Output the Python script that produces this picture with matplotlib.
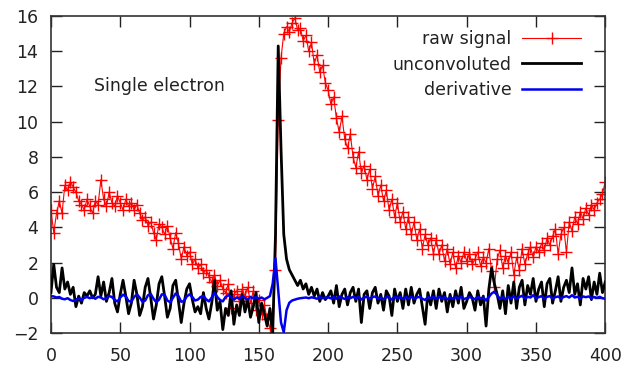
import matplotlib
matplotlib.use("Agg")
import matplotlib.pyplot as plt
import numpy as np

# sample positions (every 2 units, 0..400)
x = np.arange(0, 401, 2)

# raw signal (red, + markers)
raw_signal = [
    5.0, 3.7, 4.8, 5.5, 4.8, 6.4, 6.1, 6.6, 6.3, 6.0,
    5.5, 5.3, 5.0, 5.6, 5.2, 4.8, 5.5, 5.3, 6.7, 5.6,
    5.2, 6.0, 5.4, 5.2, 5.8, 5.4, 5.0, 5.6, 5.2, 5.4,
    5.0, 5.3, 4.8, 4.4, 4.6, 4.1, 4.3, 3.7, 3.3, 4.2,
    4.0, 3.6, 4.1, 3.4, 2.8, 3.7, 3.1, 2.2, 2.9, 2.4,
    2.6, 1.9, 2.2, 1.7, 1.9, 1.4, 1.6, 1.2, 0.9, 1.3,
    0.7, 1.0, 0.5, 0.3, 0.8, -0.6, 0.2, 0.4, -0.2, 0.5,
    0.1, 0.6, -0.3, 0.4, -0.7, -0.1, -0.9, -0.4, -1.2, -1.7,
    -2.2, 1.6, 10.1, 13.6, 15.0, 15.4, 15.1, 15.6, 15.9, 15.2,
    15.3, 14.6, 14.9, 14.0, 14.5, 13.3, 13.8, 12.8, 13.2, 12.2,
    11.8, 11.0, 11.4, 10.2, 9.4, 10.3, 9.0, 8.5, 9.3, 8.0,
    7.4, 8.3, 7.1, 7.5, 6.7, 7.3, 6.2, 6.9, 5.8, 6.4,
    5.5, 6.1, 5.0, 5.6, 4.6, 5.4, 4.3, 4.9, 3.9, 4.6,
    3.6, 4.3, 3.3, 3.9, 2.8, 3.6, 3.0, 3.4, 2.5, 3.3,
    2.5, 3.0, 2.1, 2.8, 1.9, 2.6, 1.7, 2.4, 2.0, 2.6,
    2.1, 2.5, 1.9, 2.2, 2.6, 1.8, 2.3, 2.0, 2.8, 1.5,
    0.6, 2.2, 2.7, 1.7, 2.4, 2.0, 2.6, 1.3, 2.3, 1.6,
    2.8, 1.9, 2.5, 2.9, 2.3, 2.9, 2.6, 3.1, 2.7, 3.4,
    3.0, 3.5, 3.9, 2.5, 3.6, 4.0, 2.6, 4.3, 3.8, 4.6,
    4.2, 4.9, 4.5, 5.1, 4.7, 5.3, 5.0, 5.4, 5.6, 5.9,
    6.6,
]

# unconvoluted (black)
unconvoluted = [
    0.3, 1.9, 0.6, 0.3, 1.7, 0.5, 0.9, 0.2, 0.6, -0.5,
    0.1, -0.3, 0.3, 0.1, 0.4, 0.0, 0.2, 1.2, 0.1, 0.9,
    -0.2, 0.3, 1.1, -0.3, -0.8, 0.2, 1.0, 0.1, -0.9, -0.3,
    1.0, 0.2, -1.0, -0.5, 0.6, 1.1, 0.0, -1.2, -0.4, 0.8,
    1.2, 0.1, -1.1, -0.6, 0.7, 1.0, -0.2, -1.4, -0.3, 0.5,
    0.8, -0.1, -0.8, -0.5, -0.9, 0.3, -0.6, -1.2, -0.3, 1.0,
    -0.7, -0.2, -1.8, -0.6, -1.0, 0.4, -1.5, -0.4, -1.0, 0.2,
    -0.8, -0.1, -1.1, -0.5, 0.3, -1.4, -0.3, -0.9, -1.6, -0.6,
    -2.0, 3.5, 14.3, 8.5, 3.6, 2.2, 1.6, 1.3, 1.0, 0.7,
    1.0, 0.5, 0.8, 0.2, 0.6, 0.1, 0.5, -0.2, 0.3, -0.1,
    0.1, 0.4, -0.3, 0.7, -0.5, 0.2, 0.5, -0.4, 0.3, 0.6,
    -0.2, 0.5, -1.4, 0.2, 0.4, -0.6, 0.3, 0.6, -0.3, 0.2,
    -0.7, 0.4, 0.1, -1.0, 0.5, -0.2, 0.3, -0.6, 0.5, -0.4,
    0.6, -0.3, 0.2, 0.5, -0.5, -1.5, 0.3, -0.4, 0.4, -0.6,
    0.5, -0.2, 0.3, -0.8, 0.2, -0.5, 0.4, -0.3, 0.6, -0.6,
    -0.2, 0.3, 0.0, -0.7, 0.4, -0.4, 0.1, -1.6, 0.5, 1.7,
    0.8, 0.2, -0.6, 0.4, -0.9, 0.7, -0.3, 0.9, -0.6, 0.6,
    1.0, -0.4, 0.7, 0.2, 1.1, -0.2, 0.5, 0.9, -0.5, 0.8,
    1.1, -0.3, 0.4, 1.2, -0.2, 0.6, 1.0, 0.3, 1.7, 0.2,
    0.8, -0.4, 1.1, 0.5, 1.2, -0.1, 0.9, 0.2, 1.4, 0.3,
    0.9,
]

# derivative (blue)
derivative = [
    0.10, 0.08, 0.02, 0.05, -0.05, -0.08, -0.02, -0.12, -0.18, -0.10,
    -0.05, -0.12, 0.00, 0.05, -0.02, 0.04, -0.05, 0.06, 0.02, -0.08,
    -0.02, 0.10, 0.05, -0.12, -0.20, 0.02, 0.18, 0.08, -0.18, -0.22,
    0.05, 0.20, 0.02, -0.22, -0.15, 0.15, 0.22, -0.05, -0.25, -0.10,
    0.20, 0.18, -0.15, -0.25, 0.00, 0.25, 0.10, -0.22, -0.18, 0.08,
    0.20, 0.05, -0.15, -0.10, 0.05, 0.10, -0.08, -0.20, 0.02, 0.28,
    0.05, -0.12, -0.20, 0.05, 0.15, 0.05, -0.10, 0.02, -0.05, 0.08,
    0.00, -0.08, 0.05, -0.03, 0.05, -0.05, 0.02, -0.08, 0.00, 0.10,
    0.80, 2.25, 0.40, -1.40, -1.95, -0.70, -0.28, -0.15, -0.10, -0.05,
    -0.02, 0.00, 0.02, -0.02, 0.03, 0.00, -0.05, 0.05, -0.02, 0.00,
    0.03, -0.03, 0.05, -0.05, 0.08, 0.00, -0.06, 0.04, -0.02, 0.06,
    -0.04, 0.08, -0.10, 0.02, 0.06, -0.05, 0.04, 0.08, -0.04, 0.02,
    -0.08, 0.05, 0.02, -0.10, 0.06, 0.00, 0.04, -0.06, 0.05, -0.03,
    0.06, -0.04, 0.02, 0.06, -0.05, -0.12, 0.04, -0.02, 0.05, -0.06,
    0.05, -0.02, 0.04, -0.08, 0.02, -0.05, 0.04, -0.02, 0.06, -0.06,
    -0.02, 0.04, 0.00, -0.08, 0.05, -0.04, 0.02, -0.15, 0.05, 0.25,
    0.35, 0.15, -0.05, 0.04, -0.08, 0.06, -0.03, 0.08, -0.05, 0.05,
    0.12, -0.04, 0.06, 0.02, 0.15, -0.02, 0.04, 0.10, -0.05, 0.06,
    0.10, -0.03, 0.04, 0.08, -0.04, 0.05, 0.10, 0.02, 0.15, 0.02,
    0.06, -0.04, 0.08, 0.04, 0.08, -0.02, 0.05, 0.00, 0.06, -0.02,
    -0.05,
]

xticks = [0, 50, 100, 150, 200, 250, 300, 350, 400]
yticks = [-2, 0, 2, 4, 6, 8, 10, 12, 14, 16]

txt = "#222222"
plt.rcParams["font.family"] = "DejaVu Sans"

fig = plt.figure(figsize=(6.27, 3.73), dpi=100)
ax = fig.add_axes([0.0813, 0.107, 0.884, 0.85])

ax.plot(x, raw_signal, color="#ff0000", lw=0.8, marker="+", ms=9, mew=1.0,
        label="raw signal", zorder=2)
ax.plot(x, unconvoluted, color="black", lw=2.0, label="unconvoluted", zorder=3)
ax.plot(x, derivative, color="#0000ee", lw=1.8, label="derivative", zorder=4)

ax.set_xlim(0, 400)
ax.set_ylim(-2, 16)
ax.set_xticks(xticks)
ax.set_yticks(yticks)
ax.tick_params(direction="in", length=8, width=1, top=True, right=True,
               labelsize=12.5, colors=txt)
ax.tick_params(axis="x", pad=10)
ax.tick_params(axis="y", pad=9)
for s in ax.spines.values():
    s.set_linewidth(1.2)
    s.set_color("#333333")

ax.text(31, 12, "Single electron", fontsize=12.5, color=txt, va="center", ha="left")

leg = ax.legend(loc="upper right", bbox_to_anchor=(0.969, 0.977), borderaxespad=0,
                frameon=False, markerfirst=False, numpoints=1,
                fontsize=12.5, handlelength=3.4, labelspacing=0.42,
                handletextpad=0.6)
for t in leg.get_texts():
    t.set_color(txt)

fig.savefig("out.png", dpi=100)
